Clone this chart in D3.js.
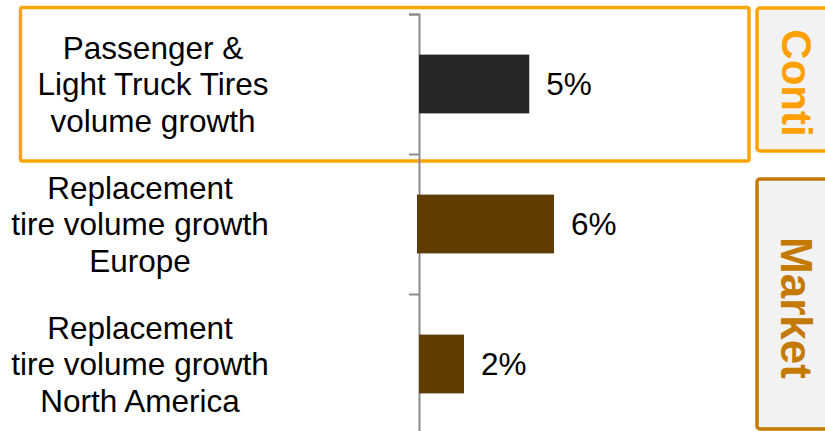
<!DOCTYPE html>
<html>
<head>
<meta charset="utf-8">
<script src="https://cdn.jsdelivr.net/npm/d3@7"></script>
<style>
  body { margin: 0; background: #fff; }
  svg { display: block; font-family: "Liberation Sans", Arial, sans-serif; }
</style>
</head>
<body>
<div id="chart"></div>
<script>
// data
var categories = ["PLT", "Europe", "NorthAmerica"];
var labelLines = [
    ["Passenger &", "Light Truck Tires", "volume growth"],
    ["Replacement", "tire volume growth", "Europe"],
    ["Replacement", "tire volume growth", "North America"]
];
var values = [4.9, 6.0, 2.0];
var groupNames = ["Conti", "Market"];

var width = 825, height = 431;

var svg = d3.select("#chart").append("svg")
    .attr("width", width)
    .attr("height", height);

// y: one band per category
var y = d3.scaleBand()
    .domain(categories)
    .range([14, 434])
    .paddingInner(0.58)
    .paddingOuter(0.29);

// boundaries between categories (for the axis ticks)
var yEdge = d3.scaleLinear().domain([0, categories.length]).range([14, 434]);

var x = d3.scaleLinear().domain([0, 6]).range([419, 554]);

// orange highlight round the first row
svg.append("rect")
    .attr("x", 20.5)
    .attr("y", yEdge(0) - 6.5)
    .attr("width", 728.5)
    .attr("height", yEdge(1) - yEdge(0) + 13.5)
    .attr("rx", 2)
    .attr("fill", "none")
    .attr("stroke", "#FFA500")
    .attr("stroke-width", 3.5);

// axis
svg.append("g")
    .attr("transform", "translate(" + x(0) + ",0)")
    .call(d3.axisLeft(yEdge).tickValues([0, 1, 2, 3]).tickSize(10).tickFormat(""))
    .call(function (g) {
        g.select(".domain").attr("stroke", "#8c8c8c").attr("stroke-width", 2);
        g.selectAll(".tick line").attr("stroke", "#8c8c8c").attr("stroke-width", 2);
    });

// bars
svg.append("g")
    .selectAll("rect")
    .data(values)
    .enter().append("rect")
    .attr("x", function (d, i) { return i === 1 ? x(0) - 2 : x(0); })
    .attr("y", function (d, i) { return y(categories[i]); })
    .attr("width", function (d, i) { return x(d) - x(0) + (i === 1 ? 2 : 0); })
    .attr("height", y.bandwidth())
    .attr("fill", function (d, i) { return i === 0 ? "#262626" : "#603C00"; });

// value labels
svg.append("g")
    .selectAll("text")
    .data(values)
    .enter().append("text")
    .attr("x", function (d) { return x(d) + 17; })
    .attr("y", function (d, i) { return y(categories[i]) + y.bandwidth() / 2 + 11; })
    .attr("font-size", 31.5)
    .attr("fill", "#000")
    .text(function (d) { return Math.round(d) + "%"; });

// category labels
var lab = svg.append("g")
    .selectAll("text")
    .data(labelLines)
    .enter().append("text")
    .attr("text-anchor", "middle")
    .attr("font-size", 31.5)
    .attr("fill", "#000")
    .attr("transform", function (d, i) {
        var cx = i === 0 ? 153 : 140;
        var cy = y(categories[i]) + y.bandwidth() / 2 + 11;
        return "translate(" + cx + "," + cy + ")";
    });
lab.selectAll("tspan")
    .data(function (d) { return d; })
    .enter().append("tspan")
    .attr("x", 0)
    .attr("y", function (d, j) { return (j - 1) * 36.5; })
    .text(function (d) { return d; });

// group boxes on the right
var groupStroke = ["#FFA200", "#C47A00"];
var groupText = ["#FFA000", "#C47A00"];
var gBox = svg.append("g")
    .selectAll("g")
    .data(groupNames)
    .enter().append("g");

gBox.append("rect")
    .attr("x", 757)
    .attr("y", function (d, i) { return i === 0 ? yEdge(0) - 6 : yEdge(1) + 25; })
    .attr("width", 80)
    .attr("height", function (d, i) {
        return i === 0 ? yEdge(1) - yEdge(0) + 3 : yEdge(3) - yEdge(1) - 30;
    })
    .attr("rx", 3)
    .attr("fill", "#F2F2F2")
    .attr("stroke", function (d, i) { return groupStroke[i]; })
    .attr("stroke-width", 3.5);

gBox.append("text")
    .attr("transform", function (d, i) {
        var cy = i === 0 ? 83 : 308;
        return "translate(796," + cy + ") rotate(90)";
    })
    .attr("text-anchor", "middle")
    .attr("dominant-baseline", "central")
    .attr("font-size", function (d, i) { return i === 0 ? 42 : 44; })
    .attr("font-weight", "bold")
    .attr("fill", function (d, i) { return groupText[i]; })
    .text(function (d) { return d; });
</script>
</body>
</html>
